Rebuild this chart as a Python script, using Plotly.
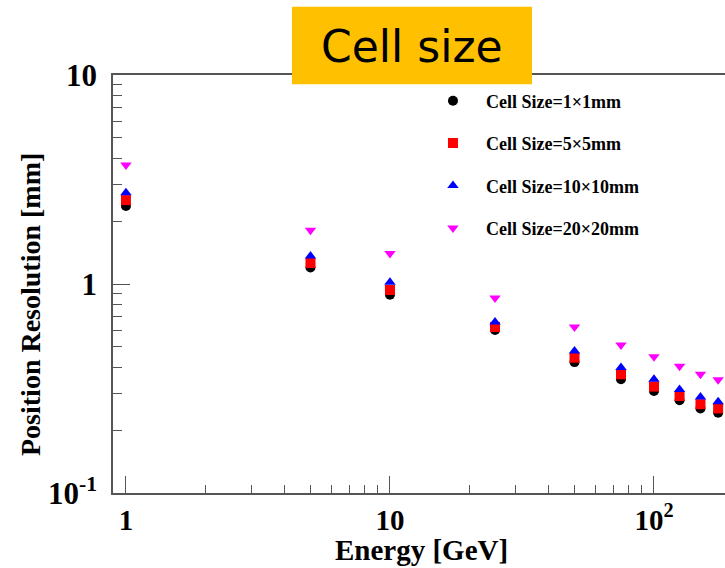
import plotly.graph_objects as go

# Beam energies (GeV)
energy = [1, 5, 10, 25, 50, 75, 100, 125, 150, 175]

# Position resolution (mm) for each cell size
res_1x1 = [2.36, 1.20, 0.889, 0.603, 0.423, 0.350, 0.308, 0.278, 0.254, 0.242]
res_5x5 = [2.52, 1.26, 0.936, 0.623, 0.444, 0.370, 0.323, 0.291, 0.266, 0.254]
res_10x10 = [2.73, 1.36, 1.02, 0.658, 0.478, 0.398, 0.350, 0.313, 0.288, 0.273]
res_20x20 = [3.71, 1.81, 1.40, 0.857, 0.623, 0.511, 0.449, 0.404, 0.370, 0.348]

series = [
    ("Cell Size=1×1mm", res_1x1, "black", "circle"),
    ("Cell Size=5×5mm", res_5x5, "red", "square"),
    ("Cell Size=10×10mm", res_10x10, "blue", "triangle-up"),
    ("Cell Size=20×20mm", res_20x20, "magenta", "triangle-down"),
]

SERIF = "Liberation Serif, Times New Roman, serif"

fig = go.Figure()
for i, (name, vals, color, symbol) in enumerate(series):
    fig.add_trace(go.Scatter(
        x=energy, y=vals, mode="markers", name=name,
        legendgroup=f"g{i}",
        marker=dict(color=color, symbol=symbol, size=10, line=dict(width=0)),
    ))

minor_x = [m * 10 ** d for d in range(-1, 3) for m in range(2, 10)]
minor_y = [m * 10 ** d for d in range(-1, 1) for m in range(2, 10)]

axis_common = dict(
    type="log", showgrid=False, zeroline=False,
    showline=True, linecolor="#555", linewidth=1.5,
    ticks="inside", ticklen=17, tickwidth=1.3, tickcolor="#555",
)

fig.update_xaxes(
    **axis_common,
    range=[-0.049, 2.269],
    tickvals=[1, 10, 100], ticktext=["1", "10", "10<sup>2</sup>"],
    tickfont=dict(family=SERIF, size=29, color="black", weight="bold"),
    minor=dict(tickvals=minor_x, ticks="inside", ticklen=8, tickcolor="#555", tickwidth=1.3),
    mirror=True,
    ticklabelstandoff=0,
)
fig.update_yaxes(
    **axis_common,
    range=[-1, 1],
    tickvals=[0.1, 1, 10], ticktext=["10<sup>-1</sup>", "1", "10"],
    tickfont=dict(family=SERIF, size=31, color="black", weight="bold"),
    minor=dict(tickvals=minor_y, ticks="inside", ticklen=9, tickcolor="#555", tickwidth=1.3),
    ticklabelstandoff=8,
)

# Axis titles
fig.add_annotation(text="Energy [GeV]", xref="paper", yref="paper",
                   x=(421 - 113) / 612, y=(493 - 550) / 418,
                   xanchor="center", yanchor="middle", showarrow=False,
                   font=dict(family=SERIF, size=29, color="black", weight="bold"))
fig.add_annotation(text="Position Resolution [mm]", xref="paper", yref="paper",
                   x=(30 - 113) / 612, y=(493 - 305) / 418, textangle=-90,
                   xanchor="center", yanchor="middle", showarrow=False,
                   font=dict(family=SERIF, size=28, color="black", weight="bold"))

# Orange title banner
fig.add_shape(type="rect", xref="paper", yref="paper",
              x0=0.2925, x1=0.6846, y0=0.978, y1=1.163,
              fillcolor="#FFC000", line=dict(width=0), layer="above")
fig.add_annotation(text="Cell size", xref="paper", yref="paper",
                   x=0.4886, y=1.067, xanchor="center", yanchor="middle",
                   showarrow=False,
                   font=dict(family="DejaVu Sans", size=44, color="black"))

fig.update_layout(
    width=725, height=568,
    margin=dict(l=113, r=0, t=75, b=75),
    paper_bgcolor="white", plot_bgcolor="white",
    showlegend=True,
    legend=dict(x=0.5016, y=0.982, xanchor="left", yanchor="top",
                bgcolor="rgba(0,0,0,0)", tracegroupgap=16, itemwidth=56,
                font=dict(family=SERIF, size=18, color="black", weight="bold")),
)

fig.write_html("out.html")
